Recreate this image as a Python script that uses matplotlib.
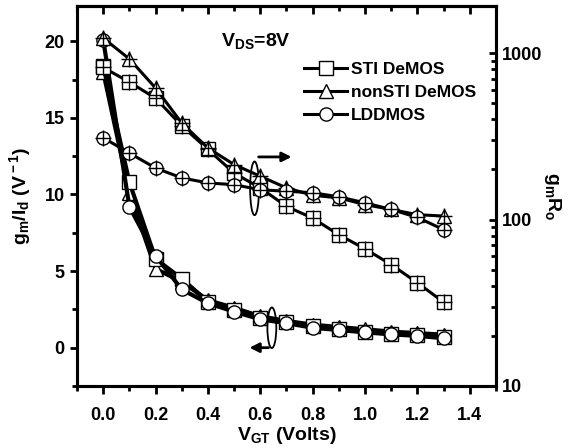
import matplotlib
matplotlib.use("Agg")
import matplotlib.pyplot as plt
from matplotlib.patches import Ellipse
from matplotlib.ticker import MultipleLocator, LogLocator, NullFormatter, FixedLocator

plt.rcParams['font.family'] = ['Liberation Sans', 'DejaVu Sans']
plt.rcParams['font.weight'] = 'bold'
plt.rcParams['mathtext.fontset'] = 'custom'
plt.rcParams['mathtext.rm'] = 'Liberation Sans:bold'
plt.rcParams['mathtext.it'] = 'Liberation Sans:bold'
plt.rcParams['mathtext.bf'] = 'Liberation Sans:bold'

# Gate overdrive voltage (V)
vgt = [0.0, 0.1, 0.2, 0.3, 0.4, 0.5, 0.6, 0.7, 0.8, 0.9, 1.0, 1.1, 1.2, 1.3]

# gm/Id (1/V), left axis
gmid_sti = [18.4, 10.8, 5.8, 4.5, 3.0, 2.45, 1.95, 1.65, 1.4, 1.2, 1.05, 0.9, 0.8, 0.7]
gmid_nonsti = [18.0, 10.1, 5.15, 4.3, 3.1, 2.6, 2.05, 1.75, 1.5, 1.35, 1.2, 1.05, 0.95, 0.85]
gmid_ldd = [20.1, 9.2, 6.0, 3.8, 2.9, 2.35, 1.85, 1.6, 1.3, 1.15, 1.0, 0.87, 0.77, 0.62]

# gm*Ro (intrinsic gain), right axis (log)
gain_sti = [820, 670, 536, 366, 264, 190, 155, 120, 102, 81, 66.7, 53.6, 41.7, 31.9]
gain_nonsti = [1233, 923, 617, 380, 269, 214, 182, 155, 140, 135, 123, 115, 107, 105]
gain_ldd = [310, 251, 204, 178, 166, 162, 151, 148, 145, 137, 126, 115, 103, 87]

labels = ['STI DeMOS', 'nonSTI DeMOS', 'LDDMOS']
markers = ['s', '^', 'o']

fig = plt.figure(figsize=(5.68, 4.48), dpi=100)
ax = fig.add_axes([0.1356, 0.1384, 0.7376, 0.8482])
ax2 = ax.twinx()

mk = dict(markerfacecolor='white', markeredgecolor='black', markeredgewidth=1.0,
          color='black', markersize=9.5)

# gm/Id curves
for y, m, z in zip([gmid_nonsti, gmid_sti, gmid_ldd], ['^', 's', 'o'], [3, 4, 5]):
    ax.plot(vgt, y, marker=m, lw=3.0, zorder=z, **mk)

# gm*Ro curves with cross overlay on each point
for y, m, z in zip([gain_sti, gain_nonsti, gain_ldd], markers, [3, 4, 5]):
    ax2.plot(vgt, y, marker=m, lw=2.2, zorder=z, **mk)
    ax2.plot(vgt, y, linestyle='none', marker='+', color='black',
             markersize=11.5, markeredgewidth=1.0, zorder=z + 0.5)

ax.set_xlim(-0.1, 1.5)
ax.set_ylim(-2.5, 22.3)
ax2.set_yscale('log')
ax2.set_ylim(10, 1920)

# x ticks: outward at the bottom, inward at the top
ax.xaxis.set_minor_locator(MultipleLocator(0.1))
ax.set_xticks([0.0, 0.2, 0.4, 0.6, 0.8, 1.0, 1.2, 1.4])
ax.set_xticklabels(['0.0', '0.2', '0.4', '0.6', '0.8', '1.0', '1.2', '1.4'])
ax.tick_params(axis='x', which='both', direction='out', top=False)
ax.tick_params(axis='x', which='major', length=6, width=2, labelsize=13, pad=9)
ax.tick_params(axis='x', which='minor', length=3.5, width=2)
secx = ax.secondary_xaxis('top')
secx.xaxis.set_major_locator(MultipleLocator(0.2))
secx.xaxis.set_minor_locator(MultipleLocator(0.1))
secx.tick_params(which='both', direction='in', labeltop=False)
secx.tick_params(which='major', length=6, width=2)
secx.tick_params(which='minor', length=3.5, width=2)
secx.spines['top'].set_linewidth(2.2)

# left axis
ax.yaxis.set_major_locator(FixedLocator([0, 5, 10, 15, 20]))
ax.yaxis.set_minor_locator(MultipleLocator(2.5))
ax.tick_params(axis='y', which='both', direction='out', right=False)
ax.tick_params(axis='y', which='major', length=5, width=2, labelsize=13, pad=4)
ax.tick_params(axis='y', which='minor', length=3.5, width=2)

# right log axis
ax2.yaxis.set_minor_locator(LogLocator(base=10, subs=range(2, 10), numticks=10))
ax2.yaxis.set_minor_formatter(NullFormatter())
ax2.set_yticks([10, 100, 1000])
ax2.set_yticklabels(['10', '100', '1000'])
ax2.tick_params(axis='y', which='both', direction='in')
ax2.tick_params(axis='y', which='major', length=5, width=2, labelsize=13, pad=4)
ax2.tick_params(axis='y', which='minor', length=3.5, width=2)

for a in (ax, ax2):
    for s in a.spines.values():
        s.set_linewidth(2.2)

ax.set_xlabel('V$_{\\rm GT}$ (Volts)', fontsize=14, fontweight='bold', labelpad=1)
ax.set_ylabel('g$_{\\rm m}$/I$_{\\rm d}$ (V$^{\\rm -1}$)', fontsize=14, fontweight='bold',
              labelpad=8)
ax2.set_ylabel('g$_{\\rm m}$R$_{\\rm o}$', fontsize=14, fontweight='bold',
               rotation=270, labelpad=15)

ax.text(0.45, 20.0, 'V$_{\\rm DS}$=8V', fontsize=14, fontweight='bold',
        ha='left', va='center')

# ellipses with arrows pointing to the relevant axis
ax.add_patch(Ellipse((0.578, 10.4), 0.034, 3.5, fill=False, ec='black', lw=1.3, zorder=6))
ax.annotate('', xy=(0.73, 12.45), xytext=(0.583, 12.45),
            arrowprops=dict(arrowstyle='-|>', color='black', lw=2, mutation_scale=14),
            zorder=6)
ax.add_patch(Ellipse((0.644, 1.3), 0.034, 2.65, fill=False, ec='black', lw=1.3, zorder=6))
ax.annotate('', xy=(0.548, 0.0), xytext=(0.642, 0.0),
            arrowprops=dict(arrowstyle='-|>', color='black', lw=2, mutation_scale=14),
            zorder=6)

# legend
handles = [plt.Line2D([], [], marker=m, lw=2.2, **mk) for m in markers]
leg = ax2.legend(handles, labels, loc='upper left', bbox_to_anchor=(0.525, 0.872),
                 frameon=False, handlelength=2.5, handletextpad=0.2,
                 labelspacing=0.45, prop={'size': 12.5, 'weight': 'bold'},
                 borderaxespad=0)

fig.savefig('out.png', dpi=100)
